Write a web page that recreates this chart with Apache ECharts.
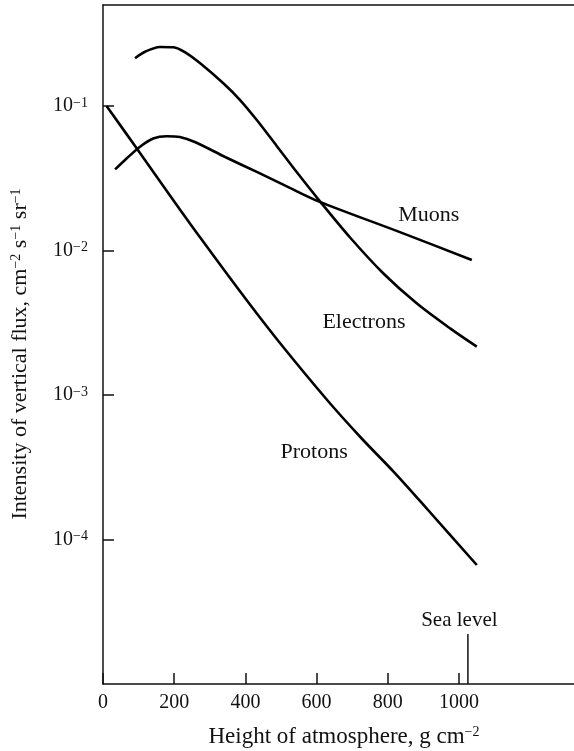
<!DOCTYPE html>
<html>
<head>
<meta charset="utf-8">
<script src="https://cdn.jsdelivr.net/npm/echarts@6/dist/echarts.min.js"></script>
<style>
  html, body { margin: 0; padding: 0; background: #fff; }
  #chart { width: 574px; height: 751px; }
</style>
</head>
<body>
<div id="chart"></div>
<script>
// Vertical flux of cosmic-ray components versus atmospheric depth (g cm^-2)
const electronDepth = [90, 118, 160, 198, 235, 273, 338, 385, 432, 488, 544, 610, 694, 787, 881, 975, 1050];
const electronFlux  = [0.214, 0.2375, 0.256, 0.255, 0.2315, 0.1975, 0.1436, 0.110, 0.080, 0.0529, 0.0349, 0.0218, 0.0123, 0.00696, 0.00431, 0.00289, 0.00216];

const muonDepth = [34, 67, 104, 141, 179, 216, 258, 343, 435, 525, 607, 834, 1036];
const muonFlux  = [0.0364, 0.0435, 0.0523, 0.0596, 0.0618, 0.0610, 0.0563, 0.0444, 0.0347, 0.0271, 0.0218, 0.0134, 0.0086];

const protonDepth = [10, 96, 197, 273, 399, 497, 632, 728, 820, 913, 1050];
const protonFlux  = [0.100, 0.0504, 0.0224, 0.0123, 0.00469, 0.00229, 0.000909, 0.000496, 0.000288, 0.000160, 0.0000666];

const depthTicks = [0, 200, 400, 600, 800, 1000];

// Curve labels: [depth, flux, text]
const curveLabels = [
  [915, 0.0176, 'Muons'],
  [733, 0.00318, 'Electrons'],
  [593, 0.00040, 'Protons']
];

// Sea-level marker
const seaLevelDepth = 1025;
const seaLevelMark = [0.00001, 0.0000222];
const seaLevelLabel = [1001, 0.0000275, 'Sea level'];

const SERIF = '"Liberation Serif", "Times New Roman", serif';
const INK = '#111';

function pairs(xs, ys) { return xs.map((x, i) => [x, ys[i]]); }

function curve(name, xs, ys) {
  return {
    name: name,
    type: 'line',
    data: pairs(xs, ys),
    smooth: 0.3,
    showSymbol: false,
    lineStyle: { color: '#000', width: 2.6 },
    silent: true
  };
}

const chart = echarts.init(document.getElementById('chart'), null, { renderer: 'canvas' });

const option = {
  animation: false,
  backgroundColor: '#fff',
  grid: { left: 103, right: 0, top: 5, bottom: 67, containLabel: false },
  xAxis: [
    {
      type: 'value',
      min: 0,
      max: 1323,
      axisLine: { show: true, lineStyle: { color: INK, width: 1.5 } },
      axisTick: { show: true, inside: true, length: 11, customValues: depthTicks,
                  lineStyle: { color: INK, width: 1.5 } },
      axisLabel: { customValues: depthTicks, margin: 9, fontSize: 20, fontFamily: SERIF, color: INK,
                   formatter: v => String(v) },
      splitLine: { show: false }
    },
    {
      type: 'value',
      position: 'top',
      min: 0,
      max: 1323,
      axisLine: { show: true, lineStyle: { color: INK, width: 1.5 } },
      axisTick: { show: false },
      axisLabel: { show: false },
      splitLine: { show: false }
    }
  ],
  yAxis: {
    type: 'log',
    logBase: 10,
    min: 0.00001,
    max: 0.5,
    axisLine: { show: true, lineStyle: { color: INK, width: 1.5 } },
    axisTick: { show: true, inside: true, length: 11, lineStyle: { color: INK, width: 1.5 } },
    splitLine: { show: false },
    axisLabel: {
      margin: 15,
      showMinLabel: false,
      showMaxLabel: false,
      formatter: function (v) {
        const e = Math.log10(v);
        const n = Math.round(e);
        if (Math.abs(e - n) > 1e-6 || n <= -5 || n >= 0) return '';
        return '{b|10}{s|\u2212' + (-n) + '}';
      },
      rich: {
        b: { fontSize: 20, fontFamily: SERIF, color: INK, lineHeight: 20 },
        s: { fontSize: 14, fontFamily: SERIF, color: INK, lineHeight: 14, verticalAlign: 'top' }
      }
    }
  },
  graphic: [
    {
      type: 'text',
      x: 344,
      y: 737,
      style: {
        text: '{m|Height of atmosphere, g cm}{s|\u22122}',
        align: 'center',
        verticalAlign: 'middle',
        rich: {
          m: { fontSize: 23, fontFamily: SERIF, fill: INK, lineHeight: 23 },
          s: { fontSize: 14, fontFamily: SERIF, fill: INK, lineHeight: 14, verticalAlign: 'top' }
        }
      }
    },
    {
      type: 'text',
      x: 20,
      y: 354,
      rotation: Math.PI / 2,
      style: {
        text: '{m|Intensity of vertical flux, cm}{s|\u22122}{m| s}{s|\u22121}{m| sr}{s|\u22121}',
        align: 'center',
        verticalAlign: 'middle',
        rich: {
          m: { fontSize: 22, fontFamily: SERIF, fill: INK, lineHeight: 22 },
          s: { fontSize: 14, fontFamily: SERIF, fill: INK, lineHeight: 14, verticalAlign: 'top' }
        }
      }
    }
  ],
  series: [
    curve('Electrons', electronDepth, electronFlux),
    curve('Muons', muonDepth, muonFlux),
    curve('Protons', protonDepth, protonFlux),
    {
      name: 'Sea level',
      type: 'line',
      data: seaLevelMark.map(f => [seaLevelDepth, f]),
      showSymbol: false,
      lineStyle: { color: INK, width: 1.5 },
      silent: true
    },
    {
      name: 'labels',
      type: 'scatter',
      symbolSize: 0,
      itemStyle: { color: '#000', opacity: 1 },
      silent: true,
      data: curveLabels.concat([seaLevelLabel]).map(d => ({ value: [d[0], d[1]], name: d[2] })),
      label: {
        show: true,
        position: 'inside',
        formatter: p => p.name,
        fontSize: 22,
        fontFamily: SERIF,
        color: INK,
        opacity: 1,
        textBorderWidth: 0
      }
    }
  ]
};

// Sea level label is slightly smaller than the curve names
option.series[4].data[3].label = { fontSize: 21 };

chart.setOption(option);
</script>
</body>
</html>
